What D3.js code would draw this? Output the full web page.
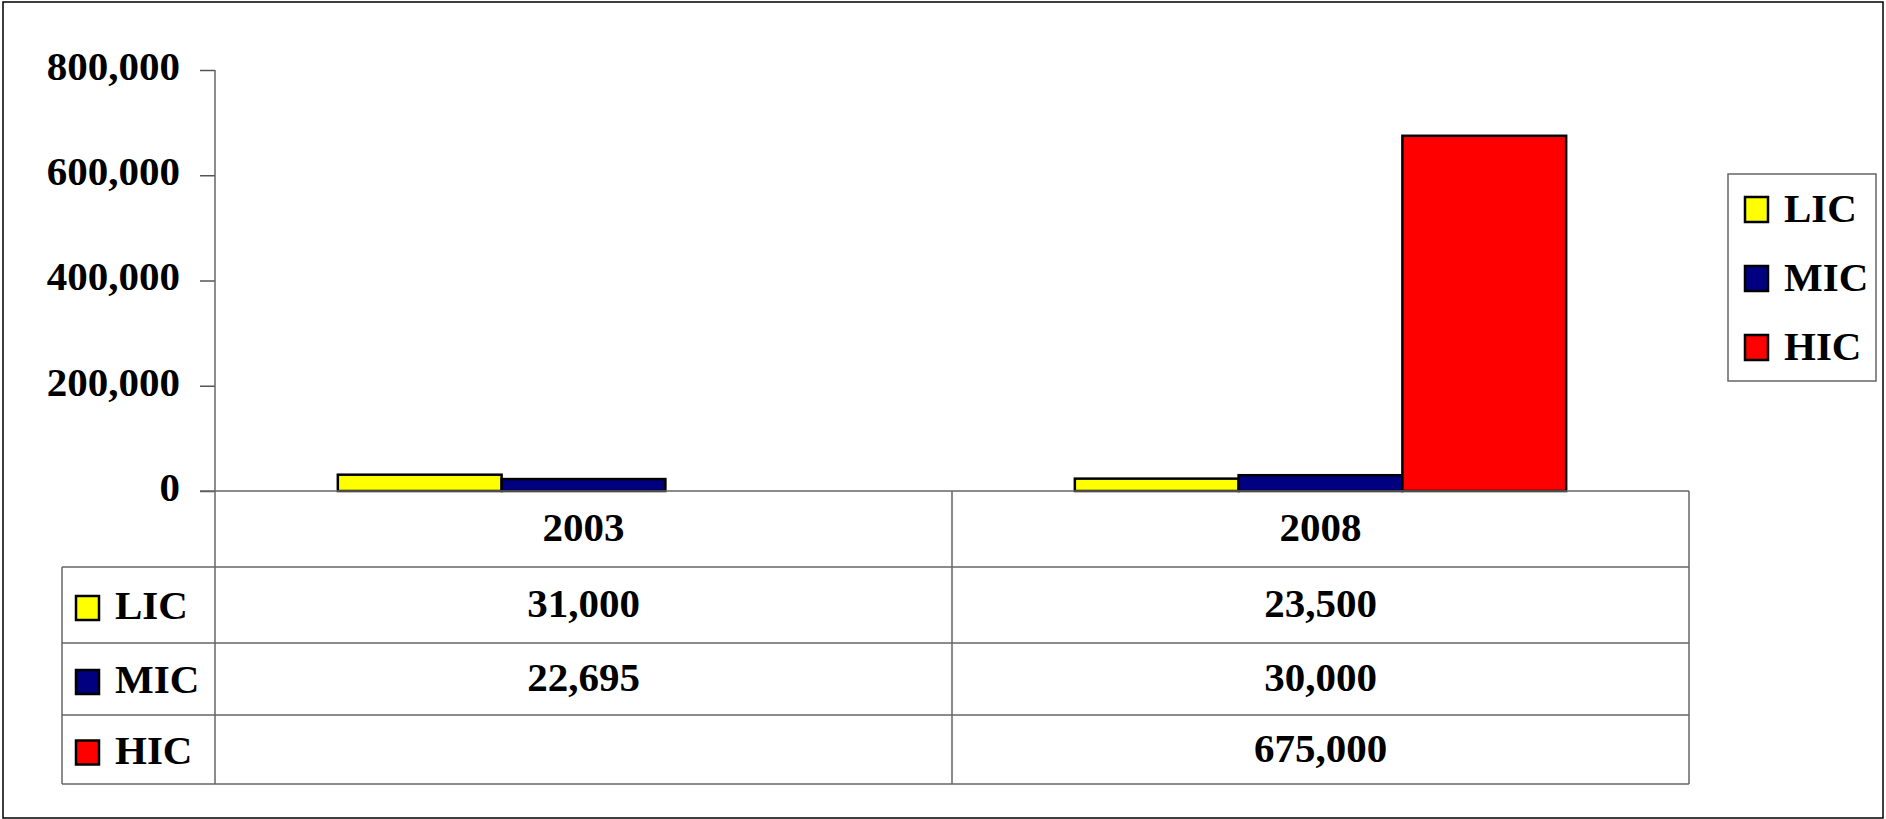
<!DOCTYPE html>
<html>
<head>
<meta charset="utf-8">
<script src="https://cdn.jsdelivr.net/npm/d3@7"></script>
<style>
  body { margin: 0; background: #fff; }
  svg text { font-family: "Liberation Serif", "Times New Roman", serif; font-weight: bold; font-size: 41px; fill: #000; }
</style>
</head>
<body>
<div class="svg"></div>
<script>
var years = ["2003", "2008"];
var series = ["LIC", "MIC", "HIC"];
var licValues = [31000, 23500];
var micValues = [22695, 30000];
var hicValues = [null, 675000];
var yTicks = [0, 200000, 400000, 600000, 800000];
var colors = ["#ffff00", "#000080", "#ff0000"];

var w = 1886;
var h = 819;
var values = [licValues, micValues, hicValues];

var plot = { left: 215, right: 1689, top: 70, bottom: 491 };
var table = { left: 62, rows: [491, 567, 643, 715, 784] };
var fmt = d3.format(",");

var svg = d3.select(".svg").append("svg").attr("width", w).attr("height", h);

// outer frame
svg.append("rect")
   .attr("x", 3).attr("y", 2).attr("width", 1880).attr("height", 816)
   .attr("fill", "none").attr("stroke", "#000").attr("stroke-width", 1.5);

var x0 = d3.scaleBand().domain(years).range([plot.left, plot.right]);
var x1 = d3.scaleBand().domain(series).range([0, x0.bandwidth()]).paddingInner(0).paddingOuter(0.75);
var y = d3.scaleLinear().domain([0, 800000]).range([plot.bottom, plot.top]);

// bars
var groups = svg.selectAll(".group")
  .data(years)
  .enter()
  .append("g")
  .attr("class", "group")
  .attr("transform", function(d) { return "translate(" + x0(d) + ",0)"; });

groups.selectAll("rect")
  .data(function(d, i) {
    return series.map(function(s, j) { return { key: s, value: values[j][i], color: colors[j] }; })
                 .filter(function(e) { return e.value != null; });
  })
  .enter()
  .append("rect")
  .attr("x", function(d) { return x1(d.key); })
  .attr("width", x1.bandwidth())
  .attr("y", function(d) { return y(d.value); })
  .attr("height", function(d) { return y(0) - y(d.value); })
  .attr("fill", function(d) { return d.color; })
  .attr("stroke", "#000")
  .attr("stroke-width", 2.5);

// y axis
var yAxis = d3.axisLeft(y).tickValues(yTicks).tickFormat(fmt).tickSize(15).tickSizeOuter(0).tickPadding(20);
var ax = svg.append("g")
  .attr("class", "y axis")
  .attr("transform", "translate(" + plot.left + ",0)")
  .call(yAxis);
ax.select(".domain").remove();
ax.selectAll(".tick line").attr("stroke", "#555").attr("stroke-width", 1.5);
ax.selectAll(".tick text").attr("dy", "0.23em").attr("font-size", null).attr("font-family", null);

var lineColor = "#666";
function line(x1p, y1p, x2p, y2p) {
  svg.append("line")
     .attr("x1", x1p).attr("y1", y1p).attr("x2", x2p).attr("y2", y2p)
     .attr("stroke", lineColor).attr("stroke-width", 1.5);
}

// axis line running down through table
line(plot.left, plot.top, plot.left, table.rows[4]);
// x axis / header top
line(plot.left - 15, plot.bottom, plot.right, plot.bottom);
// table row lines
for (var r = 1; r < table.rows.length; r++) {
  line(table.left, table.rows[r], plot.right, table.rows[r]);
}
line(table.left, table.rows[1], table.left, table.rows[4]);
line(x0("2008"), plot.bottom, x0("2008"), table.rows[4]);
line(plot.right, plot.bottom, plot.right, table.rows[4]);

// category labels
svg.selectAll(".cat")
  .data(years)
  .enter()
  .append("text")
  .attr("class", "cat")
  .attr("x", function(d) { return x0(d) + x0.bandwidth() / 2; })
  .attr("y", (table.rows[0] + table.rows[1]) / 2)
  .attr("dy", "0.3em")
  .attr("text-anchor", "middle")
  .text(function(d) { return d; });

// table rows
series.forEach(function(s, j) {
  var top = table.rows[j + 1];
  var bottom = table.rows[j + 2];
  var cy = (top + bottom) / 2;
  svg.append("rect")
     .attr("x", 76).attr("y", cy - 9).attr("width", 23).attr("height", 24)
     .attr("fill", colors[j]).attr("stroke", "#000").attr("stroke-width", 2.5);
  svg.append("text")
     .attr("x", 115).attr("y", cy).attr("dy", "0.35em")
     .text(s);
  years.forEach(function(yr, i) {
    var v = values[j][i];
    if (v == null) return;
    svg.append("text")
       .attr("x", x0(yr) + x0.bandwidth() / 2)
       .attr("y", cy).attr("dy", "0.3em")
       .attr("text-anchor", "middle")
       .text(fmt(v));
  });
});

// legend
var legend = svg.append("g").attr("class", "legend");
legend.append("rect")
  .attr("x", 1728).attr("y", 174).attr("width", 148).attr("height", 207)
  .attr("fill", "#fff").attr("stroke", "#666").attr("stroke-width", 1.5);
var items = legend.selectAll(".item")
  .data(series)
  .enter()
  .append("g")
  .attr("class", "item")
  .attr("transform", function(d, i) { return "translate(1745," + (197 + i * 69) + ")"; });
items.append("rect")
  .attr("width", 23).attr("height", 25)
  .attr("fill", function(d, i) { return colors[i]; })
  .attr("stroke", "#000").attr("stroke-width", 2.5);
items.append("text")
  .attr("x", 39).attr("y", 25)
  .text(function(d) { return d; });
</script>
</body>
</html>
